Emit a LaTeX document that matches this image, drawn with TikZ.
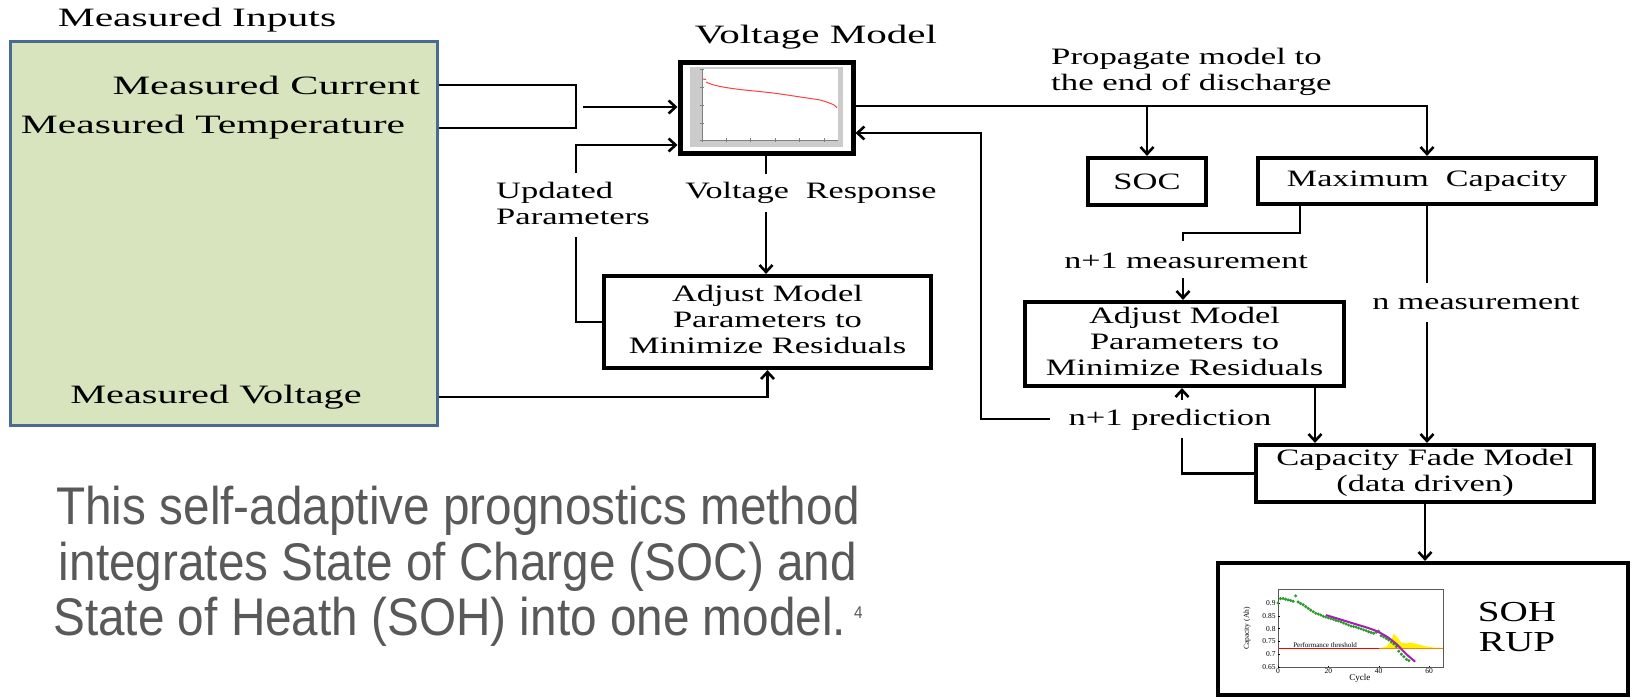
\documentclass[tikz,border=0pt]{standalone}
\usepackage{fontspec}
\setmainfont{Liberation Serif}
\newfontfamily\capfont{Liberation Sans}
\usetikzlibrary{arrows.meta}
\definecolor{inputfill}{HTML}{D7E4BD}
\definecolor{inputdraw}{HTML}{4A6A94}
\definecolor{captxt}{HTML}{595959}
\definecolor{dotgreen}{HTML}{2E9A2E}
\definecolor{fitpurple}{HTML}{A020B0}
\newcommand{\hs}[2]{\scalebox{#1}[1]{#2}}
\begin{document}
\begin{tikzpicture}[x=1pt,y=-1pt,
  conn/.style={line width=2.6pt},
  arr/.style={conn,-{Straight Barb[length=7pt,width=13pt,line width=2.6pt]}},
  blk/.style={draw,line width=4.2pt,fill=white,inner sep=0pt},
  lab/.style={inner sep=0pt,font=\fontsize{23.5}{26}\selectfont},
  big/.style={inner sep=0pt,font=\fontsize{26.5}{29}\selectfont}]
\useasboundingbox (0,0) rectangle (1632,697);
\fill[white] (0,0) rectangle (1632,697);

% ---------- inputs ----------
\node[big] (inlab) at (197,20) {\hs{1.57}{Measured Inputs}};
\node[draw=inputdraw,fill=inputfill,line width=3pt,minimum width=427pt,minimum height=384pt,inner sep=0pt] (inbox) at (223.5,233) {};
\node[big,anchor=east] (cur) at (420,85) {\hs{1.6}{Measured Current}};
\node[big] (temp) at (213,127) {\hs{1.57}{Measured Temperature}};
\node[big] (volt) at (216,397) {\hs{1.52}{Measured Voltage}};

% ---------- voltage model ----------
\node[big] (vmlab) at (816,37) {\hs{1.55}{Voltage Model}};
\node[blk,line width=5pt,minimum width=173pt,minimum height=91pt] (vm) at (766.5,107.5) {};
\fill[gray!40] (690,67) rectangle (843,147);
\fill[white] (702,69) rectangle (838,140);
\draw[gray,line width=0.5pt] (702,69) -- (702,140) -- (838,140);
\foreach \yy in {69,87,105,123,140} {\draw[gray,line width=0.4pt] (700,\yy) -- (704,\yy);}
\foreach \xx in {702,726,750,775,799,824} {\draw[gray,line width=0.4pt] (\xx,138) -- (\xx,142);}
\draw[red!75,line width=1pt] (703,79) -- (706,79.5);
\draw[red!75,line width=1pt] plot[smooth] coordinates {(706,82)(712,84.5)(723,87)(740,89.5)(773,93)(807,98)(820,100)(828,102.5)(834,105)(837,108)};

% ---------- left adjust block ----------
\node[blk,minimum width=327pt,minimum height=92pt,lab] (adj1) at (767.5,322)
  {\hs{1.47}{\begin{tabular}{@{}c@{}}Adjust Model\\Parameters to\\Minimize Residuals\end{tabular}}};
\node[lab] (vresp) at (811,193) {\hs{1.45}{Voltage\ \ Response}};
\node[lab,anchor=west] (upd) at (496,206) {\hs{1.47}{\begin{tabular}{@{}l@{}}Updated\\Parameters\end{tabular}}};

% ---------- right side blocks ----------
\node[lab,anchor=west] (prop) at (1051,72) {\hs{1.48}{\begin{tabular}{@{}l@{}}Propagate model to\\the end of discharge\end{tabular}}};
\node[blk,minimum width=118pt,minimum height=47pt,lab] (soc) at (1147,181.5) {\hs{1.47}{SOC}};
\node[blk,minimum width=338pt,minimum height=46pt,lab] (maxc) at (1427,181) {\hs{1.45}{Maximum\ \ Capacity}};
\node[blk,minimum width=319pt,minimum height=84pt,lab] (adj2) at (1184.5,344)
  {\hs{1.47}{\begin{tabular}{@{}c@{}}Adjust Model\\Parameters to\\Minimize Residuals\end{tabular}}};
\node[blk,minimum width=338pt,minimum height=57pt,lab] (cfm) at (1425,473.5)
  {\hs{1.47}{\begin{tabular}{@{}c@{}}Capacity Fade Model\\(data driven)\end{tabular}}};
\node[lab] (nmeas1) at (1186,261) {\hs{1.45}{n+1 measurement}};
\node[lab] (nmeas) at (1476,303) {\hs{1.45}{n measurement}};
\node[lab] (npred) at (1170,420) {\hs{1.47}{n+1 prediction}};

% ---------- SOH block ----------
\node[blk,minimum width=410pt,minimum height=132pt] (soh) at (1423,629) {};
\node[inner sep=0pt,font=\fontsize{29}{30}\selectfont] (sohtxt) at (1517,630)
  {\hs{1.35}{\begin{tabular}{@{}c@{}}SOH\\RUP\end{tabular}}};
\begin{scope}[shift={(1278,833.4)},x=2.517pt,y=256pt]
  \fill[yellow] (40,0.722) -- (43,0.73) -- (44.5,0.745) -- (46,0.78) -- (47.5,0.765) -- (49,0.745) -- (51,0.742) -- (53,0.745) -- (56,0.738) -- (59,0.73) -- (62,0.726) -- (65.5,0.725) -- (65.5,0.722) -- cycle;
  \draw[red,line width=1pt] (0,0.722) -- (65.5,0.722);
  \draw[orange,line width=0.4pt] (40,0.7235) -- (65.5,0.7235);
  \draw[gray!70!black,line width=0.5pt] (0,0.65) rectangle (65.5,0.955);
  \foreach \v/\t in {0.9/0.9,0.85/0.85,0.8/0.8,0.75/0.75,0.7/0.7,0.65/0.65} {
    \draw[line width=0.3pt] (0,\v) -- (0.8,\v);
    \node[anchor=east,inner sep=1pt,font=\fontsize{7.5}{8}\selectfont] at (-0.5,\v) {\t};}
  \foreach \c in {0,20,40,60} {
    \draw[line width=0.3pt] (\c,0.65) -- (\c,0.654);
    \node[anchor=north,inner sep=1pt,font=\fontsize{7.5}{8}\selectfont] at (\c,0.648) {\c};}
  \node[font=\fontsize{9}{10}\selectfont] at (32.5,0.607) {Cycle};
  \node[rotate=90,font=\fontsize{7.5}{8}\selectfont] at (-12.3,0.8) {Capacity (Ah)};
  \node[anchor=west,inner sep=0pt,font=\fontsize{7}{8}\selectfont] at (6,0.736) {Performance threshold};
  \foreach \c/\v in {0/0.9,1/0.917,2/0.918,3/0.915,4/0.912,5/0.91,6/0.907,7/0.928,8/0.904,9/0.898,10/0.893,11/0.886,12/0.879,13/0.872,14/0.866,15/0.86,16/0.857,17/0.853,18/0.848,19/0.845,20/0.842,21/0.839,22/0.836,23/0.832,24/0.83,25/0.826,26/0.822,27/0.818,28/0.814,29/0.81,30/0.808,31/0.806,32/0.802,33/0.799,34/0.795,35/0.792,36/0.788,37/0.785,38/0.782,39/0.786,40/0.79,41/0.772,42/0.768,43/0.762,44/0.756,45/0.748,46/0.74,47/0.73,48/0.712,49/0.7,50/0.69,51/0.68,52/0.675}
    {\fill[dotgreen] (\c,\v) circle[radius=1.7pt];}
  \draw[fitpurple,line width=2pt] plot[smooth] coordinates {(19,0.853)(30,0.82)(38,0.795)(43,0.77)(47,0.74)(51,0.7)(54.5,0.671)};
\end{scope}

% ---------- caption ----------
\node[inner sep=0pt,text=captxt,font=\capfont\fontsize{53}{55.5}\selectfont] (cap) at (458,569)
  {\hs{0.9}{\begin{tabular}{@{}c@{}}This self-adaptive prognostics method\\integrates State of Charge (SOC) and\\State of Heath (SOH) into one model.\,\raisebox{0.32em}{\fontsize{17}{17}\selectfont 4}\end{tabular}}};

% ---------- connectors ----------
\coordinate (j1) at (576,85);
\coordinate (j2) at (576,128);
\coordinate (a1s) at (583,107);
\coordinate (up1) at (576,237);
\coordinate (up2) at (576,173);
\coordinate (vr1) at (766,174);
\coordinate (vr2) at (766,212);
\draw[conn] (inbox.east |- j1) -- (j1) -- (j2) -- (inbox.east |- j2);
\draw[arr] (a1s) -- (a1s -| vm.west);
\draw[conn] (adj1.west) -| (up1);
\draw[arr] (up2) |- ([yshift=-37.5pt]vm.west);
\draw[conn] (vr1 |- vm.south) -- (vr1);
\draw[arr] (vr2) -- (vr2 |- adj1.north);
\draw[arr] (inbox.east |- volt) -| (adj1.south);

\coordinate (vo) at (853,106);
\draw[arr] (vo) -| (maxc.north);
\draw[arr] (soc.north |- vo) -- (soc.north);

\coordinate (fbA) at (1050,419);
\coordinate (fbB) at (981,419);
\draw[arr] (fbA) -- (fbB) |- ([yshift=-25.5pt]vm.east);

\coordinate (pr1) at (1182,438);
\coordinate (pr2) at (1182,400);
\draw[conn] (cfm.west) -| (pr1);
\draw[arr] (pr2) -- (pr2 |- adj2.south);

\coordinate (m1) at (1300,233);
\coordinate (m2) at (1183,241);
\coordinate (m3) at (1183,278);
\draw[conn] (m1 |- maxc.south) -- (m1) -| (m2);
\draw[arr] (m3) -- (m3 |- adj2.north);

\coordinate (nm1) at (1427,283);
\coordinate (nm2) at (1427,322);
\draw[conn] (nm1 |- maxc.south) -- (nm1);
\draw[arr] (nm2) -- (nm2 |- cfm.north);

\coordinate (ac) at (1315,386);
\draw[arr] (ac) -- (ac |- cfm.north);
\draw[arr] (cfm.south) -- (cfm.south |- soh.north);
\end{tikzpicture}
\end{document}
